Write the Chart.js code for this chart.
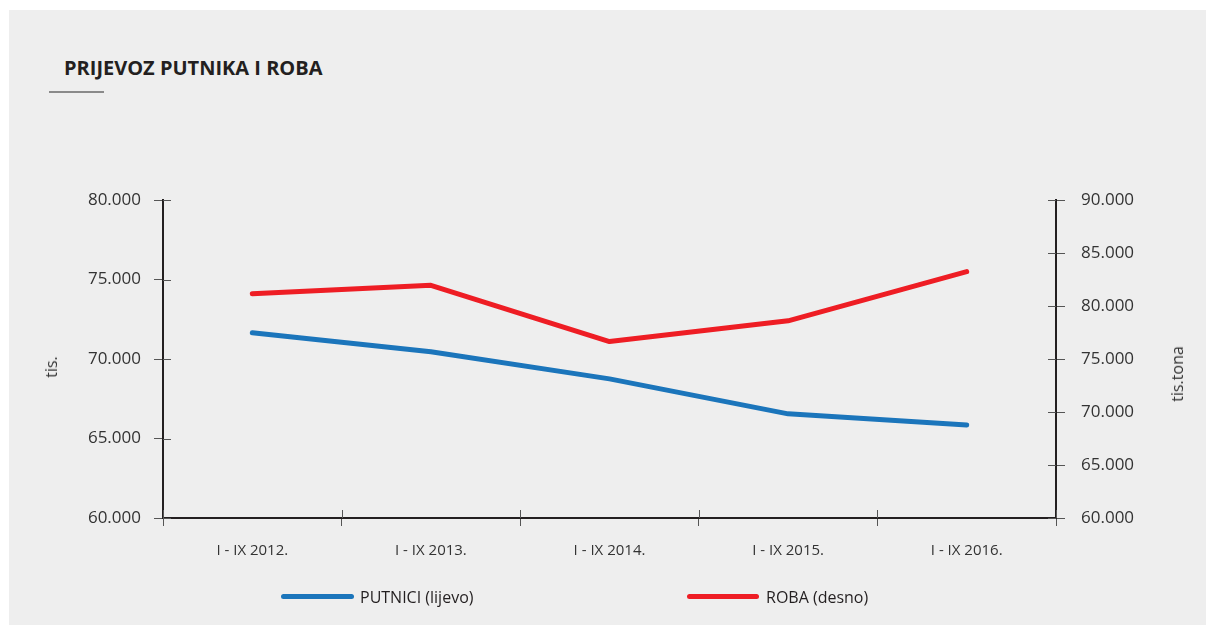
<!DOCTYPE html>
<html>
<head>
<meta charset="utf-8">
<script src="https://cdn.jsdelivr.net/npm/chart.js@4.4.1/dist/chart.umd.min.js"></script>
<style>
    html, body {
        margin: 0;
        padding: 0;
        background: #ffffff;
        font-family: "Open Sans", sans-serif;
    }

    #wrap {
        position: relative;
        width: 1216px;
        height: 625px;
        overflow: hidden;
    }

    #panel {
        position: absolute;
        left: 9px;
        top: 10px;
        width: 1197px;
        height: 615px;
        background: #eeeeee;
    }

    #title {
        position: absolute;
        left: 64px;
        top: 58px;
        font-size: 20px;
        line-height: 1;
        font-weight: 700;
        color: #231f20;
        white-space: nowrap;
    }

    #titleRule {
        position: absolute;
        left: 49px;
        top: 91px;
        width: 55px;
        height: 2px;
        background: #8a8a8a;
    }

    canvas {
        position: absolute;
        left: 0;
        top: 0;
    }

    .axisTitle {
        position: absolute;
        font-size: 16px;
        color: #333333;
        white-space: nowrap;
        transform: translate(-50%, -50%) rotate(-90deg);
    }

    .swatch {
        position: absolute;
        height: 5px;
        border-radius: 3px;
    }

    .legendText {
        position: absolute;
        font-size: 16px;
        line-height: 1;
        color: #231f20;
        white-space: nowrap;
    }
</style>
</head>
<body>
<div id="wrap">
    <div id="panel"></div>
    <div id="title">PRIJEVOZ PUTNIKA I ROBA</div>
    <div id="titleRule"></div>
    <canvas id="chart" width="1216" height="625"></canvas>
    <div class="axisTitle" style="left:51px; top:367px;">tis.</div>
    <div class="axisTitle" style="left:1177px; top:374px;">tis.tona</div>
    <div class="swatch" style="left:281px; top:594px; width:73px; background:#1b75bb;"></div>
    <div class="legendText" style="left:360px; top:589px;">PUTNICI (lijevo)</div>
    <div class="swatch" style="left:687px; top:594px; width:72px; background:#ee1d24;"></div>
    <div class="legendText" style="left:766px; top:589px;">ROBA (desno)</div>
</div>
<script>
document.addEventListener("DOMContentLoaded", () => {

    const categories = [
        "I - IX 2012.",
        "I - IX 2013.",
        "I - IX 2014.",
        "I - IX 2015.",
        "I - IX 2016."
    ];

    // putnici, tis. (lijeva os)
    const putnici = [
        71650,
        70450,
        68750,
        66550,
        65850
    ];

    // roba, tis. tona (desna os)
    const roba = [
        81150,
        81950,
        76650,
        78600,
        83250
    ];

    const leftTicks = [60000, 65000, 70000, 75000, 80000];

    const rightTicks = [60000, 65000, 70000, 75000, 80000, 85000, 90000];

    const axisColor = "#231f20";

    const valueFont = {
        family: "Open Sans",
        size: 17
    };

    const categoryFont = {
        family: "Open Sans",
        size: 15
    };

    function formatNumber(v) {
        return String(v).replace(/\B(?=(\d{3})+(?!\d))/g, ".");
    }

    // inner half of the tick marks (they cross the axis line)
    const innerTicks = {
        id: "innerTicks",
        afterDraw(chart) {
            const ctx = chart.ctx;
            const len = 8;
            ctx.save();
            ctx.strokeStyle = "#555555";
            ctx.lineWidth = 1;
            ctx.beginPath();

            const yl = chart.scales.yLeft;
            yl.ticks.forEach((t, i) => {
                const y = Math.round(yl.getPixelForTick(i)) + 0.5;
                ctx.moveTo(yl.right, y);
                ctx.lineTo(yl.right + len, y);
            });

            const yr = chart.scales.yRight;
            yr.ticks.forEach((t, i) => {
                const y = Math.round(yr.getPixelForTick(i)) + 0.5;
                ctx.moveTo(yr.left, y);
                ctx.lineTo(yr.left - len, y);
            });

            const xs = chart.scales.x;
            for (let i = 0; i <= categories.length; i++) {
                const x = Math.round(xs.getPixelForValue(i - 0.5)) + 0.5;
                ctx.moveTo(x, xs.top);
                ctx.lineTo(x, xs.top - len);
            }

            ctx.stroke();
            ctx.restore();
        }
    };

    new Chart(document.getElementById("chart"), {

        type: "line",

        data: {
            labels: categories,
            datasets: [
                {
                    label: "PUTNICI (lijevo)",
                    data: putnici,
                    yAxisID: "yLeft",
                    borderColor: "#1b75bb",
                    borderWidth: 5,
                    borderCapStyle: "round",
                    borderJoinStyle: "round",
                    pointRadius: 0,
                    tension: 0
                },
                {
                    label: "ROBA (desno)",
                    data: roba,
                    yAxisID: "yRight",
                    borderColor: "#ee1d24",
                    borderWidth: 5,
                    borderCapStyle: "round",
                    borderJoinStyle: "round",
                    pointRadius: 0,
                    tension: 0
                }
            ]
        },

        options: {
            responsive: false,
            animation: false,
            layout: {
                padding: { left: 0, right: 0, top: 200, bottom: 0 }
            },
            plugins: {
                legend: { display: false },
                tooltip: { enabled: false }
            },
            scales: {
                x: {
                    offset: true,
                    grid: {
                        display: true,
                        offset: true,
                        drawOnChartArea: false,
                        drawTicks: true,
                        tickLength: 8,
                        color: "#555555",
                        lineWidth: 1
                    },
                    border: { display: true, color: axisColor, width: 2 },
                    ticks: {
                        padding: 16,
                        color: "#333333",
                        font: categoryFont,
                        maxRotation: 0
                    },
                    afterFit(scale) {
                        scale.height = 107;
                    }
                },
                yLeft: {
                    position: "left",
                    min: 60000,
                    max: 80000,
                    afterBuildTicks(scale) {
                        scale.ticks = leftTicks.map(v => ({ value: v }));
                    },
                    grid: {
                        drawOnChartArea: false,
                        drawTicks: true,
                        tickLength: 9,
                        color: "#555555",
                        lineWidth: 1
                    },
                    border: { display: true, color: axisColor, width: 2 },
                    ticks: {
                        padding: 13,
                        color: "#333333",
                        font: valueFont,
                        callback: v => formatNumber(v)
                    },
                    afterFit(scale) {
                        scale.width = 163;
                    }
                },
                yRight: {
                    position: "right",
                    min: 60000,
                    max: 90000,
                    afterBuildTicks(scale) {
                        scale.ticks = rightTicks.map(v => ({ value: v }));
                    },
                    grid: {
                        drawOnChartArea: false,
                        drawTicks: true,
                        tickLength: 9,
                        color: "#555555",
                        lineWidth: 1
                    },
                    border: { display: true, color: axisColor, width: 2 },
                    ticks: {
                        padding: 16,
                        color: "#333333",
                        font: valueFont,
                        callback: v => formatNumber(v)
                    },
                    afterFit(scale) {
                        scale.width = 160;
                    }
                }
            }
        },

        plugins: [innerTicks]

    });

});
</script>
</body>
</html>
